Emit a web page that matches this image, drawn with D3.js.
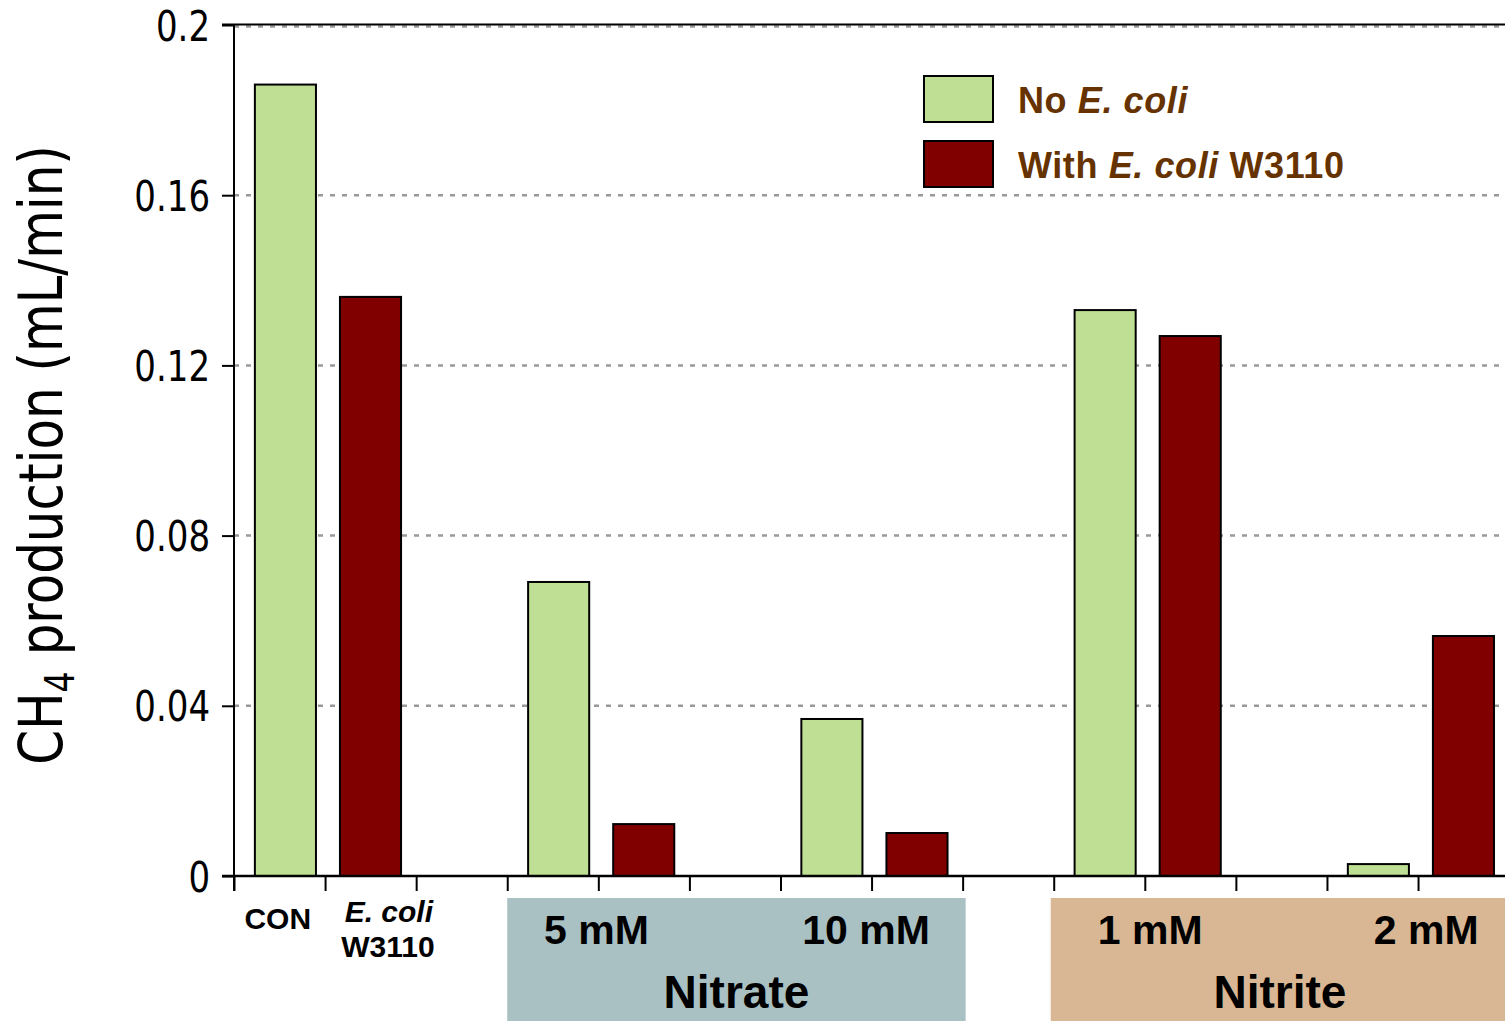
<!DOCTYPE html>
<html>
<head>
<meta charset="utf-8">
<script src="https://cdn.jsdelivr.net/npm/d3@7"></script>
<style>
  body { margin: 0; background: #fff; }
  svg { display: block; }
</style>
</head>
<body>
<div id="chart"></div>
<script>
// groups along the x axis, each has a "no E. coli" and a "with E. coli" bar
const groups = ["control", "nitrate5", "nitrate10", "nitrite1", "nitrite2"];
const series = ["No E. coli", "With E. coli W3110"];
const noEcoliValues = [0.186, 0.0691, 0.0369, 0.1330, 0.0028];
const withEcoli = [0.1361, 0.0122, 0.0101, 0.1269, 0.0564];
const yTicks = [0, 0.04, 0.08, 0.12, 0.16, 0.2];
const yTickLabels = ["0", "0.04", "0.08", "0.12", "0.16", "0.2"];
const subLabels = ["5 mM", "10 mM", "1 mM", "2 mM"];
const boxLabels = ["Nitrate", "Nitrite"];

const width = 1505;
const height = 1021;
const colors = ["#bedf94", "#800000"];
const narrow = "'Liberation Sans Narrow', 'DejaVu Sans Condensed', 'Arial Narrow', sans-serif";
const bold = "'Liberation Sans', Arial, sans-serif";

const data = groups.map((g, i) => ({
  group: g,
  values: [
    { key: series[0], value: noEcoliValues[i] },
    { key: series[1], value: withEcoli[i] }
  ]
}));

const svg = d3.select("#chart")
              .append("svg")
              .attr("width", width)
              .attr("height", height);

const left = 234;
const slotW = 91.08;
// 15 slots (3 per group), the last ones run past the right edge
const slot = d3.scaleLinear().domain([0, 15]).range([left, left + 15 * slotW]);

const y = d3.scaleLinear().domain([0, 0.2]).range([876, 25]);

const x0 = d3.scaleBand()
             .domain(groups)
             .range([slot(0), slot(15)]);

const x1 = d3.scaleBand()
             .domain(series)
             .range([0, 2 * slotW])
             .paddingInner(0.282)
             .paddingOuter(0.2115)
             .align(0.58);

// dashed grid lines
svg.append("g")
   .selectAll("line")
   .data(yTicks.slice(1))
   .enter()
   .append("line")
   .attr("x1", left)
   .attr("x2", width)
   .attr("y1", d => y(d) + (d === 0.2 ? 1.5 : 0))
   .attr("y2", d => y(d) + (d === 0.2 ? 1.5 : 0))
   .attr("stroke", "#999")
   .attr("stroke-width", 2.5)
   .attr("stroke-dasharray", "5,7");

// top frame line
svg.append("line")
   .attr("x1", left - 12)
   .attr("x2", width)
   .attr("y1", y(0.2) - 0.5)
   .attr("y2", y(0.2) - 0.5)
   .attr("stroke", "#000")
   .attr("stroke-width", 2);

// bars
const groupG = svg.append("g")
                  .selectAll("g")
                  .data(data)
                  .enter()
                  .append("g")
                  .attr("transform", d => `translate(${x0(d.group)},0)`);

groupG.selectAll("rect")
      .data(d => d.values)
      .enter()
      .append("rect")
      .attr("x", d => x1(d.key))
      .attr("width", x1.bandwidth())
      .attr("y", d => y(d.value))
      .attr("height", d => y(0) - y(d.value))
      .attr("fill", (d, i) => colors[i])
      .attr("stroke", "#000")
      .attr("stroke-width", 2);

// y axis
const yAxis = d3.axisLeft(y)
                .tickValues(yTicks)
                .tickSize(12)
                .tickSizeOuter(0)
                .tickPadding(12)
                .tickFormat((d, i) => yTickLabels[i]);

const yG = svg.append("g")
              .attr("transform", `translate(${left},0)`)
              .call(yAxis);
yG.select(".domain").remove();
yG.selectAll("line").attr("stroke", "#000").attr("stroke-width", 2);
yG.selectAll("text")
  .attr("font-family", narrow)
  .attr("font-size", 42)
  .attr("fill", "#000")
  .attr("dy", "0.36em")
  .attr("x", -24 / 0.9)
  .attr("transform", "scale(0.9,1)");

svg.append("line")
   .attr("x1", left).attr("x2", left)
   .attr("y1", y(0.2) - 1).attr("y2", y(0) + 15)
   .attr("stroke", "#000").attr("stroke-width", 2);

// x axis
const xAxis = d3.axisBottom(slot)
                .tickValues(d3.range(15))
                .tickSize(15)
                .tickSizeOuter(0)
                .tickFormat("");

const xG = svg.append("g")
              .attr("transform", `translate(0,${y(0)})`)
              .call(xAxis);
xG.select(".domain").remove();
xG.selectAll("line").attr("stroke", "#000").attr("stroke-width", 2);

svg.append("line")
   .attr("x1", left - 12).attr("x2", width)
   .attr("y1", y(0)).attr("y2", y(0))
   .attr("stroke", "#000").attr("stroke-width", 2.5);

// y axis title
const yTitle = svg.append("text")
                  .attr("transform", `translate(62,${455}) rotate(-90) scale(0.925,1)`)
                  .attr("text-anchor", "middle")
                  .attr("font-family", narrow)
                  .attr("font-size", 60)
                  .attr("fill", "#000");
yTitle.append("tspan").text("CH");
yTitle.append("tspan").text("4").attr("font-size", 40).attr("baseline-shift", "-12");
yTitle.append("tspan").text(" production (mL/min)");

// control labels
svg.append("text")
   .attr("x", slot(0.48))
   .attr("y", 929)
   .attr("text-anchor", "middle")
   .attr("font-family", bold)
   .attr("font-weight", "bold")
   .attr("font-size", 30)
   .text("CON");

svg.append("text")
   .attr("x", slot(1.7))
   .attr("y", 922)
   .attr("text-anchor", "middle")
   .attr("font-family", bold)
   .attr("font-weight", "bold")
   .attr("font-style", "italic")
   .attr("font-size", 30)
   .text("E. coli");

svg.append("text")
   .attr("x", slot(1.69))
   .attr("y", 957)
   .attr("text-anchor", "middle")
   .attr("font-family", bold)
   .attr("font-weight", "bold")
   .attr("font-size", 30)
   .text("W3110");

// treatment boxes
const boxes = [
  { label: boxLabels[0], x: slot(3), w: 5 * slotW + 3, fill: "#aac1c4" },
  { label: boxLabels[1], x: slot(9) - 3, w: 5 * slotW + 3, fill: "#dab794" }
];

svg.append("g")
   .selectAll("rect")
   .data(boxes)
   .enter()
   .append("rect")
   .attr("x", d => d.x)
   .attr("y", 898)
   .attr("width", d => d.w)
   .attr("height", height - 898)
   .attr("fill", d => d.fill);

svg.append("g")
   .selectAll("text")
   .data(boxes)
   .enter()
   .append("text")
   .attr("x", d => d.x + d.w / 2)
   .attr("y", 1008)
   .attr("text-anchor", "middle")
   .attr("font-family", bold)
   .attr("font-weight", "bold")
   .attr("font-size", 46)
   .text(d => d.label);

const subPos = [3.98, 6.94, 10.06, 13.09];
svg.append("g")
   .selectAll("text")
   .data(subLabels)
   .enter()
   .append("text")
   .attr("x", (d, i) => slot(subPos[i]))
   .attr("y", 944)
   .attr("text-anchor", "middle")
   .attr("font-family", bold)
   .attr("font-weight", "bold")
   .attr("font-size", 41)
   .text(d => d);

// legend
const legend = svg.append("g").attr("transform", "translate(924,76)");
const legendItems = legend.selectAll("g")
                          .data(series)
                          .enter()
                          .append("g")
                          .attr("transform", (d, i) => `translate(0,${i * 65})`);

legendItems.append("rect")
           .attr("width", 69)
           .attr("height", 46)
           .attr("fill", (d, i) => colors[i])
           .attr("stroke", "#000")
           .attr("stroke-width", 2);

const legendText = legendItems.append("text")
                              .attr("x", 94)
                              .attr("y", 37)
                              .attr("font-family", bold)
                              .attr("font-weight", "bold")
                              .attr("font-size", 36)
                              .attr("letter-spacing", 0.6)
                              .attr("fill", "#663300");

legendText.filter((d, i) => i === 0).each(function() {
  const t = d3.select(this);
  t.append("tspan").text("No ");
  t.append("tspan").attr("font-style", "italic").text("E. coli");
});
legendText.filter((d, i) => i === 1).each(function() {
  const t = d3.select(this);
  t.append("tspan").text("With ");
  t.append("tspan").attr("font-style", "italic").text("E. coli");
  t.append("tspan").text(" W3110");
});
</script>
</body>
</html>
